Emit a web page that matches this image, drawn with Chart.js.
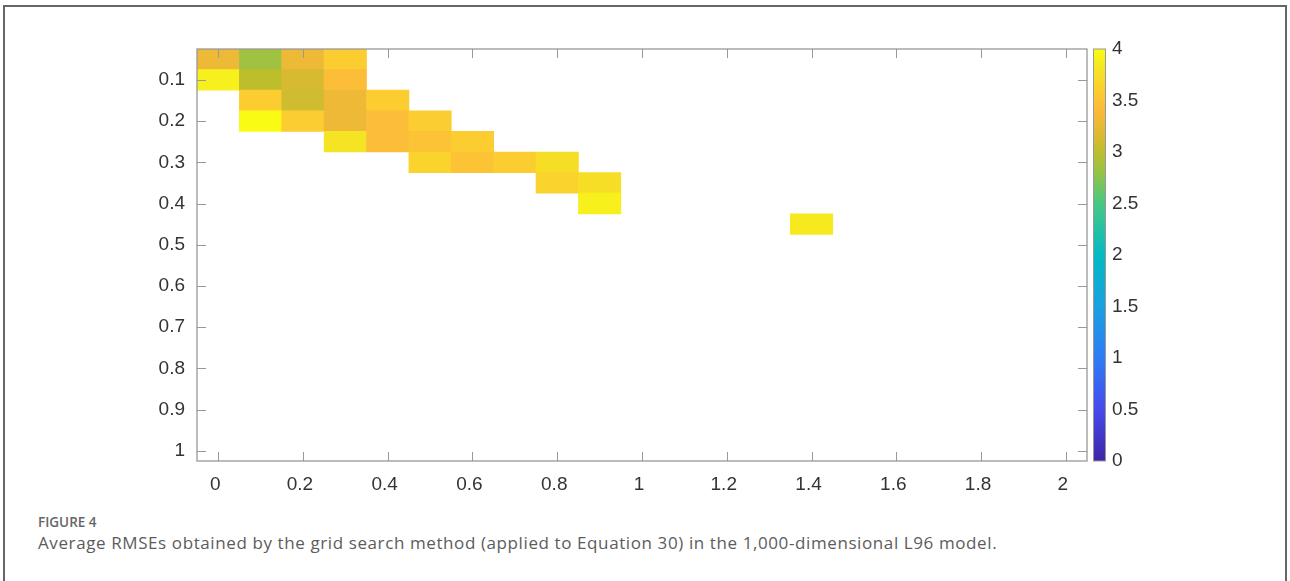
<!DOCTYPE html>
<html>
<head>
<meta charset="utf-8">
<script src="https://cdn.jsdelivr.net/npm/chart.js@4.4.0/dist/chart.umd.min.js"></script>
<style>
    html, body { margin: 0; padding: 0; background: #fff; }
    #page { position: relative; width: 1290px; height: 581px; overflow: hidden; }
    #frame { position: absolute; left: 3px; top: 5px; width: 1284px; height: 620px;
             border: 2px solid #666; border-bottom: none; box-sizing: border-box; }
    #chart { position: absolute; left: 0; top: 0; }
    .cap { position: absolute; left: 38px; font-family: "Open Sans", sans-serif; color: #5c5c5c; white-space: nowrap; }
    #figno { top: 513px; font-size: 13.5px; font-weight: 600; color: #666; }
    #figtxt { top: 531px; font-size: 17px; font-weight: 400; letter-spacing: 0.6px; }
</style>
</head>
<body>
<div id="page">
    <div id="frame"></div>
    <canvas id="chart" width="1290" height="500"></canvas>
    <div class="cap" id="figno">FIGURE 4</div>
    <div class="cap" id="figtxt">Average RMSEs obtained by the grid search method (applied to Equation 30) in the 1,000-dimensional L96 model.</div>
</div>
<script>
// grid cells that have a value (x = first parameter, y = second parameter)
var xVals = [0, 0.1, 0.2, 0.3,
             0, 0.1, 0.2, 0.3,
             0.1, 0.2, 0.3, 0.4,
             0.1, 0.2, 0.3, 0.4, 0.5,
             0.3, 0.4, 0.5, 0.6,
             0.5, 0.6, 0.7, 0.8,
             0.8, 0.9,
             0.9,
             1.4];
var yVals = [0.05, 0.05, 0.05, 0.05,
             0.1, 0.1, 0.1, 0.1,
             0.15, 0.15, 0.15, 0.15,
             0.2, 0.2, 0.2, 0.2, 0.2,
             0.25, 0.25, 0.25, 0.25,
             0.3, 0.3, 0.3, 0.3,
             0.35, 0.35,
             0.4,
             0.45];
var rmse = [3.3, 2.85, 3.3, 3.6,
            3.9, 3.0, 3.15, 3.45,
            3.6, 3.1, 3.3, 3.6,
            4.0, 3.6, 3.3, 3.45, 3.6,
            3.8, 3.45, 3.5, 3.6,
            3.65, 3.5, 3.6, 3.75,
            3.65, 3.75,
            3.9,
            3.85];

var xTicks = [0, 0.2, 0.4, 0.6, 0.8, 1, 1.2, 1.4, 1.6, 1.8, 2];
var yTicks = [0.1, 0.2, 0.3, 0.4, 0.5, 0.6, 0.7, 0.8, 0.9, 1];
var cbTicks = [0, 0.5, 1, 1.5, 2, 2.5, 3, 3.5, 4];

var cellW = 0.1, cellH = 0.05;
var cMin = 0, cMax = 4;

// parula-like colour map, value -> rgb
var cmapVals = [0, 0.5, 1.0, 1.5, 2.0, 2.5, 2.8, 3.0, 3.2, 3.4, 3.6, 3.8, 4.0];
var cmapRgb = [[62,38,168],[70,75,235],[45,125,245],[25,160,225],[5,185,195],[70,200,130],
               [150,195,70],[190,190,45],[225,185,50],[252,185,60],[252,205,48],[245,228,35],[249,251,20]];

function colorFor(v) {
    var i = 0;
    while (i < cmapVals.length - 2 && v > cmapVals[i + 1]) i++;
    var t = (v - cmapVals[i]) / (cmapVals[i + 1] - cmapVals[i]);
    t = Math.max(0, Math.min(1, t));
    var a = cmapRgb[i], b = cmapRgb[i + 1];
    return 'rgb(' + Math.round(a[0] + (b[0] - a[0]) * t) + ',' +
                    Math.round(a[1] + (b[1] - a[1]) * t) + ',' +
                    Math.round(a[2] + (b[2] - a[2]) * t) + ')';
}

var FONT = { family: '"Liberation Sans", Arial, sans-serif', size: 19 };
var AX = '#999';

function fixTicks(arr) {
    return function (scale) { scale.ticks = arr.map(function (v) { return { value: v }; }); };
}

// box + inward tick marks + colour bar
var decor = {
    id: 'decor',
    afterDatasetsDraw: function (chart) {
        var ctx = chart.ctx, a = chart.chartArea;
        var sx = chart.scales.x, sy = chart.scales.y, cb = chart.scales.cb;
        var tl = 9;
        ctx.save();
        ctx.strokeStyle = AX;
        ctx.lineWidth = 1;
        ctx.beginPath();
        xTicks.forEach(function (v) {
            var px = Math.round(sx.getPixelForValue(v)) + 0.5;
            ctx.moveTo(px, a.bottom); ctx.lineTo(px, a.bottom - tl);
            ctx.moveTo(px, a.top); ctx.lineTo(px, a.top + tl);
        });
        yTicks.forEach(function (v) {
            var py = Math.round(sy.getPixelForValue(v)) + 0.5;
            ctx.moveTo(a.left, py); ctx.lineTo(a.left + tl, py);
            ctx.moveTo(a.right, py); ctx.lineTo(a.right - tl, py);
        });
        ctx.stroke();
        ctx.lineWidth = 1.3;
        ctx.strokeRect(a.left, a.top, a.right - a.left, a.bottom - a.top);

        // colour bar
        var x0 = cb.left + 6, w = 12;
        var yTop = cb.getPixelForValue(cMax), yBot = cb.getPixelForValue(cMin);
        var g = ctx.createLinearGradient(0, yBot, 0, yTop);
        cmapVals.forEach(function (v) {
            g.addColorStop((v - cMin) / (cMax - cMin), colorFor(v));
        });
        ctx.fillStyle = g;
        ctx.fillRect(x0, yTop, w, yBot - yTop);
        ctx.lineWidth = 1;
        ctx.strokeRect(x0 + 0.5, yTop, w, yBot - yTop);
        ctx.restore();
    }
};

var cells = xVals.map(function (x, i) {
    return { x: x, y: [yVals[i] - cellH / 2, yVals[i] + cellH / 2] };
});

new Chart(document.getElementById('chart'), {
    type: 'bar',
    data: {
        datasets: [{
            data: cells,
            backgroundColor: rmse.map(colorFor),
            borderWidth: 0,
            barPercentage: 1,
            categoryPercentage: 1
        }]
    },
    options: {
        responsive: false,
        animation: false,
        devicePixelRatio: 1,
        layout: { padding: { top: 49, left: 0, right: 0, bottom: 0 } },
        plugins: { legend: { display: false }, tooltip: { enabled: false } },
        scales: {
            x: {
                type: 'linear', offset: false,
                min: -cellW / 2, max: 2 + cellW / 2,
                afterBuildTicks: fixTicks(xTicks),
                afterFit: function (s) { s.height = 39; },
                grid: { display: false, drawTicks: false },
                border: { display: false },
                ticks: { font: FONT, color: '#333', padding: 12, maxRotation: 0, labelOffset: -3,
                         callback: function (v) { return String(v); } }
            },
            y: {
                type: 'linear', reverse: true,
                min: cellH / 2, max: 1 + cellH / 2,
                afterBuildTicks: fixTicks(yTicks),
                afterFit: function (s) { s.width = 197; },
                grid: { display: false, drawTicks: false },
                border: { display: false },
                ticks: { font: FONT, color: '#333', padding: 12,
                         callback: function (v) { return String(v); } }
            },
            cb: {
                type: 'linear', position: 'right', axis: 'y',
                min: cMin, max: cMax,
                afterBuildTicks: fixTicks(cbTicks),
                afterFit: function (s) { s.width = 203; },
                grid: { display: false, drawTicks: false },
                border: { display: false },
                ticks: { font: FONT, color: '#333', padding: 25,
                         callback: function (v) { return String(v); } }
            }
        }
    },
    plugins: [decor]
});
</script>
</body>
</html>
